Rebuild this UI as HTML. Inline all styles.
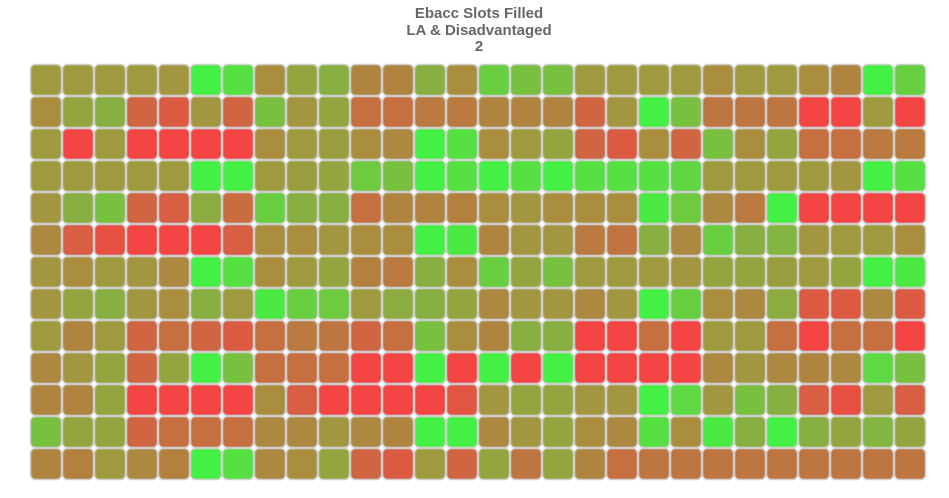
<!DOCTYPE html>
<html><head><meta charset="utf-8"><style>
body{margin:0;background:#fff;}
svg{display:block;font-family:"Liberation Sans",sans-serif;}
</style></head><body>
<svg id="chart" width="949" height="498" viewBox="0 0 949 498">
<g fill="#666" font-weight="bold" font-size="15" text-anchor="middle">
<text x="479" y="18">Ebacc Slots Filled</text>
<text x="479" y="35">LA &amp; Disadvantaged</text>
<text x="479" y="51">2</text>
</g>
<g id="cells"></g>
</svg>
<script>
const row0=[4,4,4,4,3.8,7,6.5,3.5,4.5,5,3,3,5,3.5,6,5.5,5.5,4,4,4,4,3.5,4,4,3.5,3,7,6];
const row1=[3.5,4.5,5,1.5,1,3.8,1.5,5.5,3.8,4.5,2,2,2.5,2.5,3,3,3,1.5,3.8,7,5.5,2.3,2.3,2.3,0,0,4,0];
const row2=[4,0,4,0,0,0,0,3.5,4,4.2,3.5,3.2,7,6.5,3.5,4,4.5,1.5,1,3.5,1.5,5.5,3.5,4.5,2,2,2.5,2.5];
const row3=[4,4,4,4,4,7,7,4,4.2,4.5,5.8,5.5,7,6.5,7,6.5,7,6.5,6.5,6.5,6.2,4,4,4,4,3.8,7,6.5];
const row4=[3.8,5,5.5,1.5,1.2,4.8,1.8,6,5,5,2,3,3,2.8,3.5,3.8,3.5,3.5,3.5,6.8,5.8,3.2,2.5,7,0,0,0,0];
const row5=[3.2,1.2,0.5,0,0,0,1.2,3.5,3.5,3.8,3.5,3.5,7,6.8,3,3.8,3.8,2.5,2.2,5,3.2,6,5,5.2,3.8,4,4,3.5];
const row6=[3.8,3.5,4,3.8,3.2,7,6.5,3.5,4,4.5,2.8,2.5,5,3.5,6,4.5,5.5,4,4,4,3.8,4.5,4.5,4.2,4,4.5,7,6.8];
const row7=[3.8,4.5,5,3.8,3.5,5,4,6.8,6,5.8,4,4.8,5,4.5,3.2,3.8,3.8,3.2,3.8,7,6,3.5,3.2,4.8,1,1,3.2,1];
const row8=[4,3,4,1.5,2,1.5,1,2,2.5,2.3,1.5,2,5.5,3.5,3,5,5,0,0,2,0,4,4,2,0,2,2,0];
const row9=[3.2,3.8,4.5,1.5,4.5,7,5.5,2,2,2,0,0,7,0,7,0,7,0,0,0,0,3.2,3.8,3.2,3,3.2,6.3,5.5];
const row10=[3,3,4.5,0,0,0,0,3.5,1.2,0,0,0,0,0.8,3.8,4.5,4.5,3.8,3.8,7,6.3,3.8,5.5,5,1.2,0.5,4,1.2];
const row11=[5.5,4.5,4.5,1.5,2,2,2,3.2,3.2,3.8,3.2,3,7,7,3.2,3.8,4.5,3.5,3.2,6.5,3.5,6.8,5,7,5,4.5,5.2,4.5];
const row12=[3,2.8,4,3.2,2.8,7,6.5,3.2,3.5,4.5,1.5,1,4,1.5,4.5,2.3,4.5,3,2,2.3,2.3,2.3,2.3,2.3,2.3,2.3,2.3,2.3];
const rows=[row0,row1,row2,row3,row4,row5,row6,row7,row8,row9,row10,row11,row12];
const palette=[[244,68,68],[220,90,66],[196,112,64],[176,132,64],[160,154,64],[136,176,64],[104,208,64],[68,240,68]];
function color(v){const i=Math.min(6,Math.floor(v)),t=v-i,a=palette[i],b=palette[i+1];
return 'rgb('+a.map((c,k)=>Math.round(c+(b[k]-c)*t)).join(',')+')';}
const x0=30,y0=64,step=32;
function xs(c){return x0+c*step;}
function ys(r){return y0+r*step;}
const g=document.getElementById('cells');
rows.forEach((row,r)=>row.forEach((v,c)=>{
const el=document.createElementNS('http://www.w3.org/2000/svg','rect');
el.setAttribute('x',xs(c)+0.5);el.setAttribute('y',ys(r)+0.5);
el.setAttribute('width',31);el.setAttribute('height',31);
el.setAttribute('rx',5);el.setAttribute('fill',color(v));
el.setAttribute('stroke','#cfcfcf');el.setAttribute('stroke-width',1.5);


g.appendChild(el);
}));
</script>
</body></html>
